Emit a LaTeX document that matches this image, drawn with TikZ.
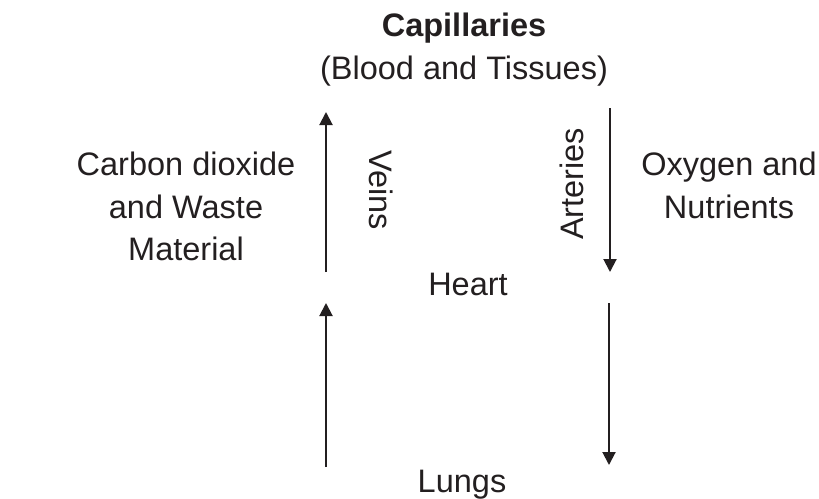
\documentclass[tikz,border=0pt]{standalone}
\usepackage{fontspec}
\setmainfont{Liberation Sans}
\usepackage{xcolor}
\usetikzlibrary{arrows.meta}
\definecolor{ink}{HTML}{231F20}

\begin{document}
\begin{tikzpicture}[
		x=0.5pt, y=-0.5pt,
		lbl/.style={inner sep=0pt, align=center, text=ink,
				font=\fontsize{16.25}{21.25}\selectfont},
		arr/.style={-{Triangle[length=6.5pt, width=6.5pt]}, line width=1pt, draw=ink}
		]
		\useasboundingbox (0,0) rectangle (819,498);
		\node[lbl, anchor=north] (cap) at (464,13) {\textbf{Capillaries}\\(Blood and Tissues)};
		\node[lbl, anchor=base] (heart) at (468,295) {Heart};
		\node[lbl, anchor=base] (lungs) at (462,492) {Lungs};
		\node[lbl, anchor=north] (waste) at (186,152) {Carbon dioxide\\and Waste\\Material};
		\node[lbl, anchor=north] (nutri) at (729,152) {Oxygen and\\Nutrients};
		\node[lbl, anchor=base, rotate=-90] (veins) at (369,190) {Veins};
		\node[lbl, anchor=base, rotate=90] (arteries) at (583,184) {Arteries};
		% arrow ends
		\coordinate (vn0) at (326,272);
		\coordinate (vn1) at (326,112);
		\coordinate (at0) at (610,108);
		\coordinate (at1) at (610,272);
		\coordinate (pv0) at (326,467);
		\coordinate (pv1) at (326,303);
		\coordinate (pa0) at (609,303);
		\coordinate (pa1) at (609,465);
		\foreach \a/\b in {vn0/vn1, at0/at1, pv0/pv1, pa0/pa1}
		\draw[arr] (\a)--(\b);
	\end{tikzpicture}
\end{document}
